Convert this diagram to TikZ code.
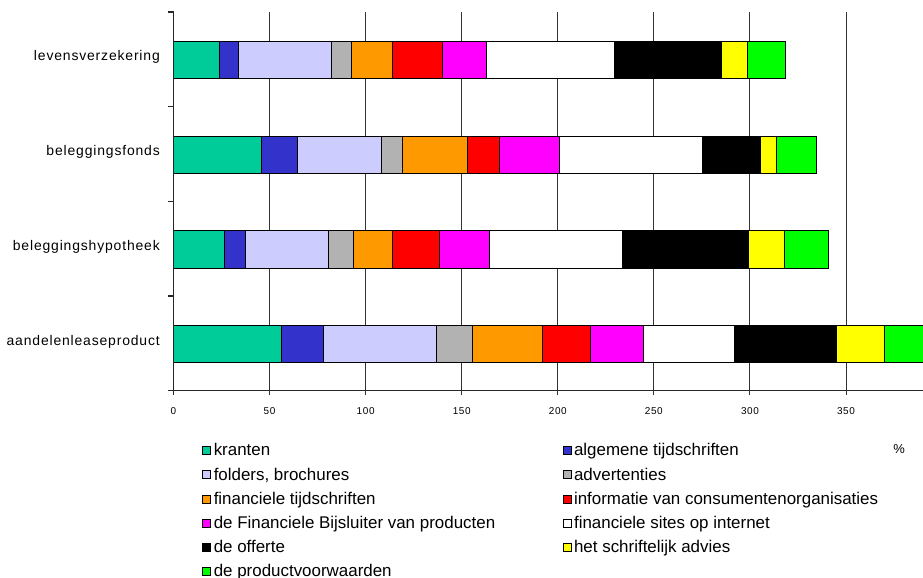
\documentclass[tikz,border=0pt]{standalone}
\usepackage{fontspec}
\setmainfont{Liberation Sans}
\newfontfamily\axisfont[LetterSpace=6]{Liberation Sans}
\usetikzlibrary{positioning}
\definecolor{krantgreen}{HTML}{00CC99}
\definecolor{algblue}{HTML}{3333CC}
\definecolor{folderlav}{HTML}{CCCCFF}
\definecolor{advgrey}{HTML}{B2B2B2}
\definecolor{finorange}{HTML}{FF9900}
\definecolor{infored}{HTML}{FF0000}
\definecolor{bijsmagenta}{HTML}{FF00FF}
\definecolor{sitewhite}{HTML}{FFFFFF}
\definecolor{offerblack}{HTML}{000000}
\definecolor{adviesyellow}{HTML}{FFFF00}
\definecolor{voorwgreen}{HTML}{00FF00}

\begin{document}
\begin{tikzpicture}[x=1bp, y=-1bp,
    seg/.style={draw=black, line width=0.7bp},
    gridline/.style={draw=black!80, line width=0.9bp},
    axisline/.style={draw=black!85, line width=1.2bp},
    catlabel/.style={anchor=base east, inner sep=0pt, font=\axisfont\fontsize{14}{16}\selectfont},
    ticklabel/.style={anchor=base, inner sep=0pt, font=\axisfont\fontsize{10}{12}\selectfont},
    lgbox/.style={draw=black, line width=0.7bp, minimum size=8bp, inner sep=0pt},
    lgtext/.style={anchor=base west, inner sep=0pt, font=\fontsize{17}{20}\selectfont}]
  \useasboundingbox (0,0) rectangle (923,578);
  \clip (0,0) rectangle (923,578);

  % plot area, value axis in %
  \begin{scope}[shift={(173.5,0)}, x=1.9214bp]
    \foreach \v in {50,100,...,350}
      \draw[gridline] (\v,12) -- (\v,395);
    % stacked bars (cumulative ends)
    \foreach \yc/\ends in {
        60/{23.7,33.7,82.3,92.4,113.7,139.9,162.8,229.3,285.0,298.8,318.4},
        154.7/{45.9,64.4,108.0,119.3,153.1,169.6,200.8,275.1,305.2,313.9,334.6},
        249.5/{26.5,37.2,80.8,93.4,113.7,138.2,164.6,233.6,299.0,317.7,340.6},
        344/{55.9,77.8,136.6,155.5,191.9,216.9,244.7,291.7,344.8,369.8,400}} {
      \foreach \e [count=\k, remember=\e as \s (initially 0)] in \ends {
        \pgfmathsetmacro{\segc}{{"krantgreen","algblue","folderlav","advgrey","finorange","infored","bijsmagenta","sitewhite","offerblack","adviesyellow","voorwgreen"}[\k-1]}
        \draw[seg, fill=\segc] (\s,\yc-18.7) rectangle (\e,\yc+18.7);
      }
    }
    % axes
    \draw[axisline] (0,12) -- (0,395);
    \draw[axisline] (0,390.7) -- (400,390.7);
    \foreach \t in {12,106.7,201.4,296,390.7}
      \draw[axisline] (0,\t) -- ++(-5.5bp,0);
    \foreach \v in {0,50,...,350}
      \node[ticklabel] (tick\v) at (\v,414) {\v};
  \end{scope}

  % categories
  \foreach \name [count=\i from 0] in {levensverzekering,beleggingsfonds,beleggingshypotheek,aandelenleaseproduct}
    \node[catlabel] (cat\i) at (160,{61+94.7*\i}) {\name};

  \node[anchor=base, inner sep=0pt, font=\fontsize{13}{15}\selectfont] (pct) at (899,453.5) {\%};

  % legend
  \foreach \txt/\col [count=\i from 0] in {kranten/krantgreen, {folders, brochures}/folderlav,
      financiele tijdschriften/finorange, de Financiele Bijsluiter van producten/bijsmagenta,
      de offerte/offerblack, de productvoorwaarden/voorwgreen} {
    \node[lgbox, fill=\col] (lgl\i) at (206.7,{450.5+24.2*\i}) {};
    \node[lgtext] (lgltxt\i) at ([xshift=2.5bp, yshift=-5.4bp]lgl\i.east) {\txt};
  }
  \foreach \txt/\col [count=\i from 0] in {algemene tijdschriften/algblue, advertenties/advgrey,
      informatie van consumentenorganisaties/infored, financiele sites op internet/sitewhite,
      het schriftelijk advies/adviesyellow} {
    \node[lgbox, fill=\col] (lgr\i) at (567,{450.5+24.2*\i}) {};
    \node[lgtext] (lgrtxt\i) at ([xshift=2.5bp, yshift=-5.4bp]lgr\i.east) {\txt};
  }
\end{tikzpicture}
\end{document}
